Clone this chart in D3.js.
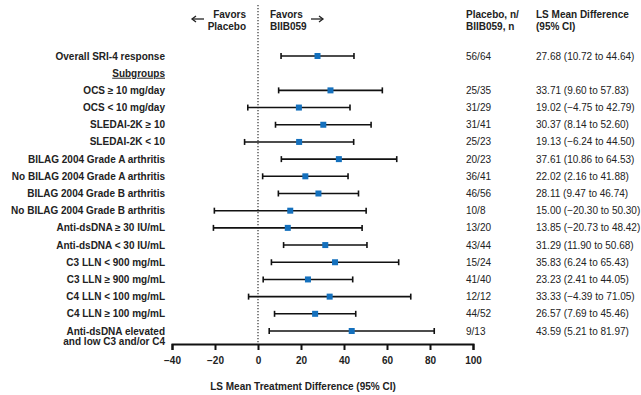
<!DOCTYPE html>
<html>
<head>
<meta charset="utf-8">
<script src="https://cdn.jsdelivr.net/npm/d3@7"></script>
<style>
  body { margin: 0; background: #fff; }
  text { font-family: "Liberation Sans", Arial, sans-serif; fill: #222; }
</style>
</head>
<body>
<script>
'use strict';

// row labels (the "Subgroups" header sits on its own row)
const labels = [
  "Overall SRI-4 response", "Subgroups",
  "OCS \u2265 10 mg/day", "OCS < 10 mg/day",
  "SLEDAI-2K \u2265 10", "SLEDAI-2K < 10",
  "BILAG 2004 Grade A arthritis", "No BILAG 2004 Grade A arthritis",
  "BILAG 2004 Grade B arthritis", "No BILAG 2004 Grade B arthritis",
  "Anti-dsDNA \u2265 30 IU/mL", "Anti-dsDNA < 30 IU/mL",
  "C3 LLN < 900 mg/mL", "C3 LLN \u2265 900 mg/mL",
  "C4 LLN < 100 mg/mL", "C4 LLN \u2265 100 mg/mL",
  "Anti-dsDNA elevated|and low C3 and/or C4"
];
const means = [27.68, null, 33.71, 19.02, 30.37, 19.13, 37.61, 22.02, 28.11, 15.00, 13.85, 31.29, 35.83, 23.23, 33.33, 26.57, 43.59];
const lower = [10.72, null, 9.60, -4.75, 8.14, -6.24, 10.86, 2.16, 9.47, -20.30, -20.73, 11.90, 6.24, 2.41, -4.39, 7.69, 5.21];
const upper = [44.64, null, 57.83, 42.79, 52.60, 44.50, 64.53, 41.88, 46.74, 50.30, 48.42, 50.68, 65.43, 44.05, 71.05, 45.46, 81.97];
const counts = ["56/64", "", "25/35", "31/29", "31/41", "25/23", "20/23", "36/41", "46/56", "10/8", "13/20", "43/44", "15/24", "41/40", "12/12", "44/52", "9/13"];
const xTicks = [-40, -20, 0, 20, 40, 60, 80, 100];

const fmt = v => (v < 0 ? "\u2212" + Math.abs(v).toFixed(2) : v.toFixed(2));

const svg = d3.select('body').append('svg')
  .attr('width', 641)
  .attr('height', 395);

// scales
const xScale = d3.scaleLinear().domain([-40, 100]).range([172, 473]);
const yScale = d3.scalePoint()
  .domain(d3.range(labels.length))
  .range([56, 331]);

// dotted zero line
svg.append('line')
  .attr('x1', xScale(0)).attr('x2', xScale(0))
  .attr('y1', 5).attr('y2', 344)
  .attr('stroke', '#333')
  .attr('stroke-width', 1.2)
  .attr('stroke-dasharray', '1.2,1.8');

// x axis
const xAxis = d3.axisBottom(xScale)
  .tickValues(xTicks)
  .tickSize(6)
  .tickFormat(d => d < 0 ? "\u2212" + Math.abs(d) : d);
const gx = svg.append('g')
  .attr('transform', 'translate(0, 344)')
  .call(xAxis);
gx.select('.domain').attr('stroke', '#111').attr('stroke-width', 2);
gx.selectAll('.tick line').attr('stroke', '#111').attr('stroke-width', 2);
gx.selectAll('.tick text')
  .attr('y', 13)
  .style('font-size', '10px')
  .style('font-weight', 'bold')
  .style('font-family', '"Liberation Sans", Arial, sans-serif')
  .attr('fill', '#222');

svg.append('text')
  .attr('x', 303)
  .attr('y', 390)
  .attr('text-anchor', 'middle')
  .style('font-size', '10px')
  .style('font-weight', 'bold')
  .text('LS Mean Treatment Difference (95% CI)');

// row labels
const rows = d3.range(labels.length);
rows.forEach(i => {
  const parts = labels[i].split('|');
  const t = svg.append('text')
    .attr('x', 165)
    .attr('y', yScale(i) + 3.5)
    .attr('text-anchor', 'end')
    .style('font-size', '10px')
    .style('font-weight', 'bold');
  parts.forEach((p, k) => {
    t.append('tspan').attr('x', 165).attr('dy', k ? 10 : 0).text(p);
  });
  if (labels[i] === "Subgroups") t.style('text-decoration', 'underline');
});

// error bars
const data = rows.filter(i => means[i] !== null);
const bars = svg.append('g').selectAll('g')
  .data(data)
  .enter()
  .append('g');

bars.append('line')
  .attr('x1', i => xScale(lower[i]))
  .attr('x2', i => xScale(upper[i]))
  .attr('y1', i => yScale(i))
  .attr('y2', i => yScale(i))
  .attr('stroke', '#111')
  .attr('stroke-width', 1.6);

['lower', 'upper'].forEach(side => {
  const arr = side === 'lower' ? lower : upper;
  bars.append('line')
    .attr('x1', i => xScale(arr[i]))
    .attr('x2', i => xScale(arr[i]))
    .attr('y1', i => yScale(i) - 3)
    .attr('y2', i => yScale(i) + 3)
    .attr('stroke', '#111')
    .attr('stroke-width', 1.6);
});

bars.append('rect')
  .attr('x', i => xScale(means[i]) - 3)
  .attr('y', i => yScale(i) - 3)
  .attr('width', 6)
  .attr('height', 6)
  .attr('fill', '#1470bd');

// header: favors
const bold = (x, y, s, anchor) => svg.append('text')
  .attr('x', x).attr('y', y)
  .attr('text-anchor', anchor || 'start')
  .style('font-size', '10px').style('font-weight', 'bold')
  .text(s);
bold(246, 18, 'Favors', 'end');
bold(246, 30, 'Placebo', 'end');
bold(270, 18, 'Favors');
bold(270, 30, 'BIIB059');

// arrows
const arrow = (x1, x2) => {
  const dir = Math.sign(x2 - x1);
  svg.append('line')
    .attr('x1', x1).attr('x2', x2).attr('y1', 19).attr('y2', 19)
    .attr('stroke', '#222').attr('stroke-width', 1.3);
  svg.append('path')
    .attr('d', `M${x2 - dir * 4},16 L${x2},19 L${x2 - dir * 4},22`)
    .attr('fill', 'none').attr('stroke', '#222').attr('stroke-width', 1.3);
};
arrow(204, 192);
arrow(311, 323);

// right-hand columns
bold(466, 18, 'Placebo, n/');
bold(466, 30, 'BIIB059, n');
bold(536, 18, 'LS Mean Difference');
bold(536, 30, '(95% CI)');

data.forEach(i => {
  svg.append('text')
    .attr('x', 466).attr('y', yScale(i) + 3.5)
    .style('font-size', '10px')
    .text(counts[i]);
  svg.append('text')
    .attr('x', 536).attr('y', yScale(i) + 3.5)
    .style('font-size', '10px')
    .text(`${fmt(means[i])} (${fmt(lower[i])} to ${fmt(upper[i])})`);
});
</script>
</body>
</html>
